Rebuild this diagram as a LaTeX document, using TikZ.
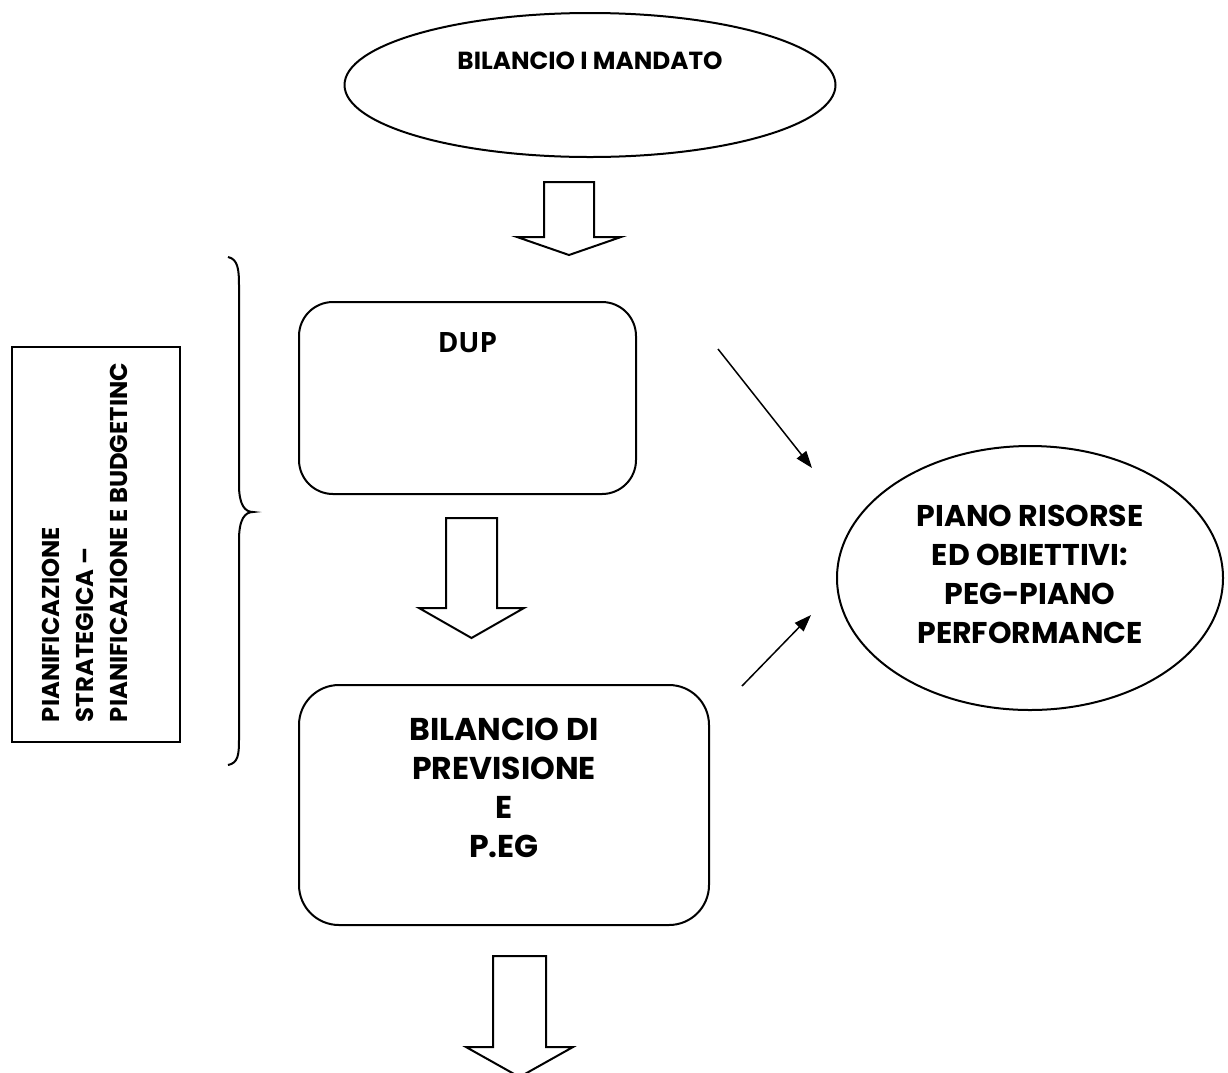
\documentclass[tikz,border=0pt]{standalone}
\usepackage{fontspec}
\setmainfont{Poppins}
\newfontfamily\dupfont{Open Sans}
\usetikzlibrary{shapes}
\usetikzlibrary{arrows.meta}

\begin{document}
\begin{tikzpicture}[x=1pt, y=-1pt, line width=2pt,
    txt/.style={font=\bfseries\fontsize{30}{39}\selectfont, align=center, inner sep=0pt},
    thinarrow/.style={line width=1.5pt, -{Triangle[length=17pt,width=12pt]}}]
    \useasboundingbox (0,0) rectangle (1228,1072);

    \node[draw, ellipse, minimum width=491pt, minimum height=144pt] (mandato) at (590,85) {};
    \node[txt, font=\bfseries\fontsize{24.7}{30}\selectfont] (mandatotxt) at ([yshift=24pt]mandato.center) {BILANCIO I MANDATO};

    \node[draw, rounded corners=34pt, minimum width=337pt, minimum height=192pt] (dup) at (467.5,398) {};
    \node[txt, font=\dupfont\bfseries\fontsize{28}{36}\selectfont] (duptxt) at ([yshift=55pt]dup.center) {DUP};

    \node[draw, rounded corners=40pt, minimum width=410pt, minimum height=240pt] (bilancio) at (504,805) {};
    \node[txt, font=\bfseries\fontsize{31.5}{39}\selectfont] (bilanciotxt) at ([yshift=17pt]bilancio.center) {BILANCIO DI\\PREVISIONE\\E\\P.EG};

    \node[draw, ellipse, minimum width=386pt, minimum height=264pt] (piano) at (1030,578) {};
    \node[txt] (pianotxt) at ([yshift=4pt]piano.center) {PIANO RISORSE\\ED OBIETTIVI:\\PEG-PIANO\\PERFORMANCE};

    \node[draw, minimum width=168pt, minimum height=395pt] (fase) at (96,544.5) {};
    \node[txt, align=left, font=\bfseries\fontsize{24.3}{34}\selectfont, rotate=90, anchor=north west] (fasetxt) at (41,723)
      {PIANIFICAZIONE\\STRATEGICA --\\PIANIFICAZIONE E BUDGETINC};

    \draw (228,257) .. controls (238,259) and (239,270) .. (239,285) -- (239,485)
      .. controls (239,505) and (245,512) .. (253,512)
      .. controls (245,512) and (239,519) .. (239,540) -- (239,740)
      .. controls (239,755) and (238,763) .. (228,765);

    \foreach \cx/\hw/\top/\head/\tip in {569/25/182/237/255, 471.5/25.5/518/608/638, 519.5/26.5/956/1047/1077}
      \draw (\cx-\hw,\top) -- (\cx+\hw,\top) -- (\cx+\hw,\head) -- (\cx+\hw+27,\head) -- (\cx,\tip)
        -- (\cx-\hw-27,\head) -- (\cx-\hw,\head) -- cycle;

    \coordinate (dupout) at (718,349);
    \coordinate (pianoin) at (812,468);
    \coordinate (bilanciout) at (742,686);
    \coordinate (pianoinb) at (811,615);
    \draw[thinarrow] (dupout) -- (pianoin);
    \draw[thinarrow] (bilanciout) -- (pianoinb);
\end{tikzpicture}
\end{document}
